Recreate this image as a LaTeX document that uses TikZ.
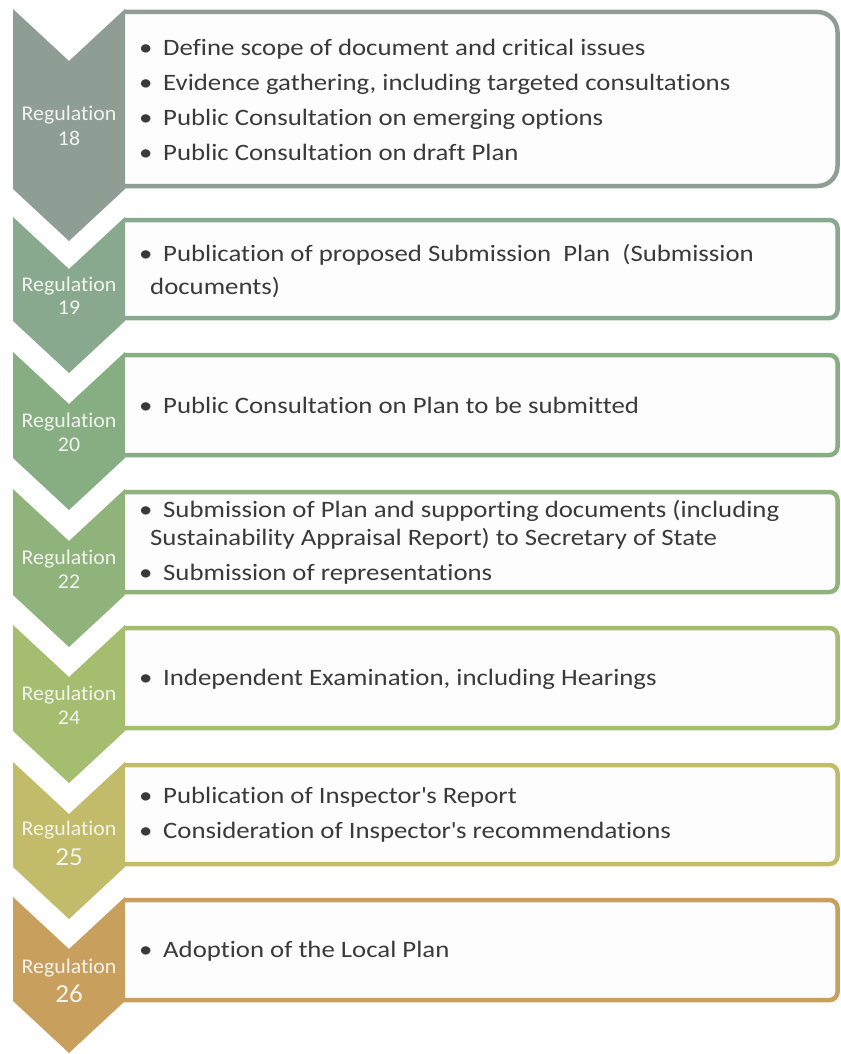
\documentclass[tikz,border=0pt]{standalone}
\usepackage{fontspec}
\setmainfont{Carlito}[Ligatures={TeX,NoCommon}]
\newfontfamily\itemfont{Carlito}[Ligatures={TeX,NoCommon}, FakeStretch=1.14]
\newfontfamily\regfont{Carlito}[Ligatures={TeX,NoCommon}, FakeStretch=1.04]
\usepackage{xcolor}

\definecolor{reg18}{HTML}{8E9E94}
\definecolor{reg19}{HTML}{88A98D}
\definecolor{reg20}{HTML}{87AE83}
\definecolor{reg22}{HTML}{8FB37B}
\definecolor{reg24}{HTML}{A5BD6F}
\definecolor{reg25}{HTML}{C2BC6A}
\definecolor{reg26}{HTML}{C99F5E}
\definecolor{boxfill}{HTML}{FDFDFD}
\definecolor{itemtext}{HTML}{3A3A3A}
\definecolor{labeltext}{HTML}{F2F3EE}

\newcommand{\itembullet}{\makebox[24pt][l]{\textbullet}}

\begin{document}
\begin{tikzpicture}[
    x=1pt, y=-1pt,
    stagebox/.style = {draw=#1, line width=4.5pt, fill=boxfill, rounded corners=8pt},
    regtext/.style  = {text=labeltext, font=\regfont\fontsize{21}{23}\selectfont, anchor=base, inner sep=0pt},
    bignum/.style   = {text=labeltext, font=\regfont\fontsize{26}{28}\selectfont, anchor=base, inner sep=0pt},
    item/.style     = {text=itemtext, font=\itemfont\fontsize{23.5}{26}\selectfont, anchor=base west, inner sep=0pt},
  ]
	\useasboundingbox (0,0) rectangle (840,1054);
	
	% Kästen
	\draw[stagebox=reg18, rounded corners=20pt] (124,12) -- (837.5,12) -- (837.5,186) -- (124,186);
	\draw[stagebox=reg19] (124,220) -- (837.5,220) -- (837.5,318) -- (124,318);
	\draw[stagebox=reg20] (124,355) -- (837.5,355) -- (837.5,455) -- (124,455);
	\draw[stagebox=reg22] (124,492) -- (837.5,492) -- (837.5,592) -- (124,592);
	\draw[stagebox=reg24] (124,628) -- (837.5,628) -- (837.5,728) -- (124,728);
	\draw[stagebox=reg25] (124,765) -- (837.5,765) -- (837.5,864) -- (124,864);
	\draw[stagebox=reg26] (124,900) -- (837.5,900) -- (837.5,1000) -- (124,1000);
	
	% Pfeile
	\fill[reg18] (13,9) -- (69,61) -- (125,9) -- (125,189) -- (69,241) -- (13,189) -- cycle;
	\fill[reg19] (13,217) -- (69,269) -- (125,217) -- (125,321) -- (69,373) -- (13,321) -- cycle;
	\fill[reg20] (13,352) -- (69,404) -- (125,352) -- (125,458) -- (69,510) -- (13,458) -- cycle;
	\fill[reg22] (13,489) -- (69,541) -- (125,489) -- (125,595) -- (69,647) -- (13,595) -- cycle;
	\fill[reg24] (13,625) -- (69,677) -- (125,625) -- (125,731) -- (69,783) -- (13,731) -- cycle;
	\fill[reg25] (13,762) -- (69,814) -- (125,762) -- (125,867) -- (69,919) -- (13,867) -- cycle;
	\fill[reg26] (13,897) -- (69,949) -- (125,897) -- (125,1001) -- (69,1053) -- (13,1001) -- cycle;
	
	% Beschriftung der Pfeile
	\node[regtext] (lab18) at (69,121) {Regulation};
	\node[regtext] (num18) at (69,145) {18};
	\node[regtext] (lab19) at (69,291) {Regulation};
	\node[regtext] (num19) at (69,314) {19};
	\node[regtext] (lab20) at (69,427) {Regulation};
	\node[regtext] (num20) at (69,451) {20};
	\node[regtext] (lab22) at (69,564) {Regulation};
	\node[regtext] (num22) at (69,588) {22};
	\node[regtext] (lab24) at (69,700) {Regulation};
	\node[regtext] (num24) at (69,724) {24};
	\node[regtext] (lab25) at (69,835) {Regulation};
	\node[bignum]  (num25) at (69,865) {25};
	\node[regtext] (lab26) at (69,973) {Regulation};
	\node[bignum]  (num26) at (69,1002) {26};
	
	% Texte in den Kästen
	\node[item] (t18a) at (139,56) {\itembullet Define scope of document and critical issues};
	\node[item] (t18b) at (139,91) {\itembullet Evidence gathering, including targeted consultations};
	\node[item] (t18c) at (139,125) {\itembullet Public Consultation on emerging options};
	\node[item] (t18d) at (139,160) {\itembullet Public Consultation on draft Plan};
	
	\node[item] (t19a) at (139,261) {\itembullet Publication of proposed Submission\ \ Plan\ \ (Submission};
	\node[item] (t19b) at (150,294.5) {documents)};
	
	\node[item] (t20a) at (139,413) {\itembullet Public Consultation on Plan to be submitted};
	
	\node[item] (t22a) at (139,517) {\itembullet Submission of Plan and supporting documents (including};
	\node[item] (t22b) at (150,545) {Sustainability Appraisal Report) to Secretary of State};
	\node[item] (t22c) at (139,580) {\itembullet Submission of representations};
	
	\node[item] (t24a) at (139,685) {\itembullet Independent Examination, including Hearings};
	
	\node[item] (t25a) at (139,803) {\itembullet Publication of Inspector\textquotesingle s Report};
	\node[item] (t25b) at (139,838) {\itembullet Consideration of Inspector\textquotesingle s recommendations};
	
	\node[item] (t26a) at (139,957) {\itembullet Adoption of the Local Plan};
	
\end{tikzpicture}
\end{document}
